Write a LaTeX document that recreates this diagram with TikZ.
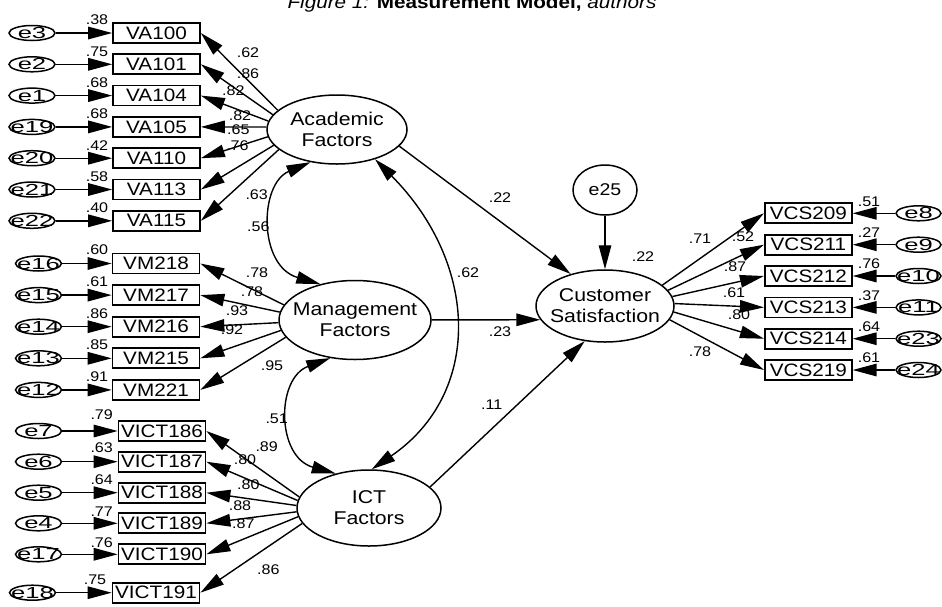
\documentclass[tikz,border=0pt]{standalone}
\usepackage{fontspec}
\setmainfont[FakeStretch=1.15]{Liberation Sans}
\newfontfamily\efont[FakeStretch=1.6]{Liberation Sans}
\usetikzlibrary{shapes.geometric,arrows.meta}
\tikzset{
  oneway/.style={line width=1.4pt,-{Triangle[length=24pt,width=12.5pt]}},
  twoway/.style={line width=1.4pt,{Triangle[length=24pt,width=12.5pt]}-{Triangle[length=24pt,width=12.5pt]}},
  ind/.style={draw,line width=1.7pt,minimum width=87pt,minimum height=20pt,inner sep=0pt,font=\fontsize{18}{20}\selectfont},
  err/.style={draw,ellipse,line width=1.5pt,minimum width=46pt,minimum height=15pt,inner sep=0pt},
  etext/.style={inner sep=0pt,font=\efont\fontsize{16}{17}\selectfont},
  lat/.style={draw,ellipse,line width=1.5pt,inner sep=0pt},
  lattext/.style={inner sep=0pt,align=center,font=\fontsize{18.5}{21}\selectfont},
  val/.style={inner sep=0pt,font=\fontsize{14}{15}\selectfont},
}
\begin{document}
\begin{tikzpicture}[x=1pt,y=-1pt]
\path[use as bounding box,fill=white] (0,0) rectangle (942,606);

% title (cut at the top)
\node[anchor=base,inner sep=0pt,font=\fontsize{18}{19}\selectfont] (title) at (472,8)
  {\textit{Figure 1:} \textbf{Measurement Model,} \textit{authors}};

% latent variables
\node[lat,minimum width=140pt,minimum height=69pt] (AF) at (337,129.5) {};
\node[lattext] (AFt) at (AF) {Academic\\Factors};
\node[lat,minimum width=152pt,minimum height=79pt] (MF) at (355,320) {};
\node[lattext] (MFt) at (MF) {Management\\Factors};
\node[lat,minimum width=144pt,minimum height=76pt] (ICT) at (369,508) {};
\node[lattext] (ICTt) at (ICT) {ICT\\Factors};
\node[lat,minimum width=138pt,minimum height=72pt] (CS) at (605,306) {};
\node[lattext] (CSt) at (CS) {Customer\\Satisfaction};
\node[lat,minimum width=64pt,minimum height=50pt] (e25) at (605,190) {};
\node[inner sep=0pt,font=\fontsize{17}{18}\selectfont] (te25) at (e25) {e25};

% Academic block
\foreach \nm/\en/\v/\y/\ang/\lx/\ly/\lv in {
VA100/e3/.38/33/162/248/52.7/.62,
VA101/e2/.75/64.3/167/248/73.3/.86,
VA104/e1/.68/95.6/173/233.3/90.7/.82,
VA105/e19/.68/126.9/178/240/115.7/.82,
VA110/e20/.42/158.2/186/238.3/129.3/.65,
VA113/e21/.58/189.5/194/237.3/146/.76,
VA115/e22/.40/220.8/199/256.7/195/.63}{
  \node[ind] (\nm) at (156.5,\y) {\nm};
  \node[err] (\en) at (32,\y) {};
  \node[etext] (t\en) at (\en) {\en};
  \draw[oneway] (\en) -- (\nm);
  \node[val] (r\nm) at (97,\y-13) {\v};
  \draw[oneway] (AF.\ang) -- (\nm.east);
  \node[val] (l\nm) at (\lx,\ly) {\lv};
}

% Management block
\foreach \nm/\en/\v/\y/\ang/\lx/\ly/\lv in {
VM218/e16/.60/263.5/168/257/272.7/.78,
VM217/e15/.61/295.1/174/252/291.7/.78,
VM216/e14/.86/326.7/182/237/311/.93,
VM215/e13/.85/358.3/188/232/330/.92,
VM221/e12/.91/389.9/194/272/365.7/.95}{
  \node[ind] (\nm) at (156,\y) {\nm};
  \node[err] (\en) at (38.5,\y) {};
  \node[etext] (t\en) at (\en) {\en};
  \draw[oneway] (\en) -- (\nm);
  \node[val] (r\nm) at (97,\y-13.5) {\v};
  \draw[oneway] (MF.\ang) -- (\nm.east);
  \node[val] (l\nm) at (\lx,\ly) {\lv};
}

% ICT block
\foreach \nm/\en/\v/\y/\bx/\ex/\vx/\vy/\ang/\lx/\ly/\lv in {
VICT186/e7/.79/431/162/38.5/101.7/415/171/266.7/446.7/.89,
VICT187/e6/.63/461.7/162/38.5/101.7/447.7/174/245/459.3/.80,
VICT188/e5/.64/492.7/162/38.5/101.7/480/178/248.3/485/.80,
VICT189/e4/.77/523.3/162/38.5/101.7/511.7/183/240/506/.88,
VICT190/e17/.76/554.3/162/38.5/101.7/542.7/187/243.3/524/.87,
VICT191/e18/.75/592.7/156/32.5/95/580/193/268.3/570/.86}{
  \node[ind] (\nm) at (\bx,\y) {\nm};
  \node[err] (\en) at (\ex,\y) {};
  \node[etext] (t\en) at (\en) {\en};
  \draw[oneway] (\en) -- (\nm);
  \node[val] (r\nm) at (\vx,\vy) {\v};
  \draw[oneway] (ICT.\ang) -- (\nm.east);
  \node[val] (l\nm) at (\lx,\ly) {\lv};
}

% Customer satisfaction block
\foreach \nm/\en/\v/\y/\ang/\lx/\ly/\lv in {
VCS209/e8/.51/213.3/20/700/239/.71,
VCS211/e9/.27/244.7/14/743/237/.52,
VCS212/e10/.76/276/8/735/267/.87,
VCS213/e11/.37/307.4/2/734/292.7/.61,
VCS214/e23/.64/338.7/355/739/315/.80,
VCS219/e24/.61/370/348/700/351.7/.78}{
  \node[ind] (\nm) at (808.3,\y) {\nm};
  \node[err,minimum width=45pt] (\en) at (918.5,\y) {};
  \node[etext] (t\en) at (\en) {\en};
  \draw[oneway] (\en) -- (\nm);
  \node[val] (r\nm) at (869,\y-12) {\v};
  \draw[oneway] (CS.\ang) -- (\nm.west);
  \node[val] (l\nm) at (\lx,\ly) {\lv};
}

% structural paths
\draw[oneway] (AF.345) -- (CS.137);
\draw[oneway] (MF) -- (CS.192);
\draw[oneway] (ICT.19) -- (CS.240);
\draw[oneway] (e25) -- (CS);

% covariances
\draw[twoway] (AF.231) .. controls (259,184) and (258,266) .. (MF.134);
\draw[twoway] (MF.237) .. controls (275.7,378.4) and (276.3,457) .. (ICT.134);
\draw[twoway] (AF.322) .. controls (479,264) and (482.8,393.2) .. (ICT.86);

% path labels
\node[val] (sAC) at (500,198) {.22};
\node[val] (sMC) at (500,331.7) {.23};
\node[val] (sIC) at (491.7,405) {.11};
\node[val] (cAI) at (468,273) {.62};
\node[val] (cAM) at (258.3,226.7) {.56};
\node[val] (cMI) at (276.7,418.3) {.51};
\node[val] (rCS) at (643,257) {.22};
\end{tikzpicture}
\end{document}
